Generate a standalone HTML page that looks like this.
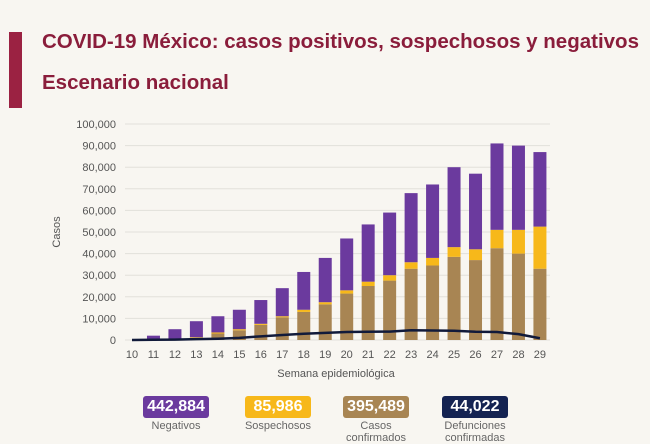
<!DOCTYPE html>
<html><head><meta charset="utf-8"><style>
body{margin:0;width:650px;height:444px;background:#f8f6f1;font-family:"Liberation Sans",sans-serif;overflow:hidden;position:relative}
.t{position:absolute;color:#8a1d3b;font-weight:bold}
.box{position:absolute;top:396px;height:22px;border-radius:3px;color:#fff;font-weight:bold;font-size:16px;text-align:center;line-height:22px}
.lb{position:absolute;top:420px;font-size:11px;color:#666;text-align:center;line-height:12px}
</style></head><body>
<div style="position:absolute;left:9px;top:32px;width:13px;height:76px;background:#9b2242"></div>
<div class="t" style="left:42px;top:30px;font-size:20.5px">COVID-19 México: casos positivos, sospechosos y negativos</div>
<div class="t" style="left:42px;top:71px;font-size:20.5px">Escenario nacional</div>
<svg id="c" width="650" height="444" style="position:absolute;left:0;top:0"></svg>
<div class="box" style="left:143px;width:66px;background:#6b3a9e">442,884</div>
<div class="box" style="left:245px;width:66px;background:#f7b81a">85,986</div>
<div class="box" style="left:343px;width:66px;background:#a88553">395,489</div>
<div class="box" style="left:442px;width:66px;background:#142352">44,022</div>
<div class="lb" style="left:138px;width:76px">Negativos</div>
<div class="lb" style="left:236px;width:84px">Sospechosos</div>
<div class="lb" style="left:336px;width:80px">Casos<br>confirmados</div>
<div class="lb" style="left:435px;width:80px">Defunciones<br>confirmadas</div>
<script>
const weeks=[10,11,12,13,14,15,16,17,18,19,20,21,22,23,24,25,26,27,28,29];
const confirmados=[0,200,400,1000,3000,4500,7000,10500,13000,16500,21500,25000,27500,33000,34500,38500,37000,42500,40000,33000];
const sospechosos=[0,0,0,300,500,500,500,500,1000,1000,1500,2000,2500,3000,3500,4500,5000,8500,11000,19500];
const negativos=[0,1800,4600,7400,7500,9000,11000,13000,17500,20500,24000,26500,29000,32000,34000,37000,35000,40000,39000,34500];
const defunciones=[0,100,200,400,600,1000,1700,2300,2900,3300,3700,3800,3900,4500,4400,4300,3800,3700,2700,800];
const yTicks=[0,10000,20000,30000,40000,50000,60000,70000,80000,90000,100000];
const svg=document.getElementById('c');const NS='http://www.w3.org/2000/svg';
const y=v=>340-v*216/100000;const x=i=>132+i*21.47;
function mk(t,a){const e=document.createElementNS(NS,t);for(const k in a)e.setAttribute(k,a[k]);svg.appendChild(e);return e;}
yTicks.forEach(v=>{
const l=mk('line',{x1:125,x2:550,y1:y(v),y2:y(v),stroke:'#e2e0da','stroke-width':1});


const t=mk('text',{x:116,y:y(v)+4,'text-anchor':'end','font-size':11,fill:'#555'});t.textContent=v.toLocaleString('en-US');


});
weeks.forEach((w,i)=>{
const bw=13,cx=x(i);let base=0;
[[confirmados[i],'#a88553','bar-confirmados'],[sospechosos[i],'#f7b81a','bar-sospechosos'],[negativos[i],'#6b3a9e','bar-negativos']].forEach(([v,c,n])=>{
if(v<=0)return;const r=mk('rect',{x:cx-bw/2,y:y(base+v),width:bw,height:y(base)-y(base+v),fill:c});


base+=v;});
const t=mk('text',{x:cx,y:358,'text-anchor':'middle','font-size':11,fill:'#555'});t.textContent=w;


});
const p=mk('polyline',{points:defunciones.map((v,i)=>x(i)+','+y(v)).join(' '),fill:'none',stroke:'#111a3a','stroke-width':2.5});


const xt=mk('text',{x:336,y:377,'text-anchor':'middle','font-size':11,fill:'#555'});xt.textContent='Semana epidemiológica';


const yt=mk('text',{x:60,y:232,'text-anchor':'middle','font-size':11,fill:'#555',transform:'rotate(-90 60 232)'});yt.textContent='Casos';


</script>
</body></html>
